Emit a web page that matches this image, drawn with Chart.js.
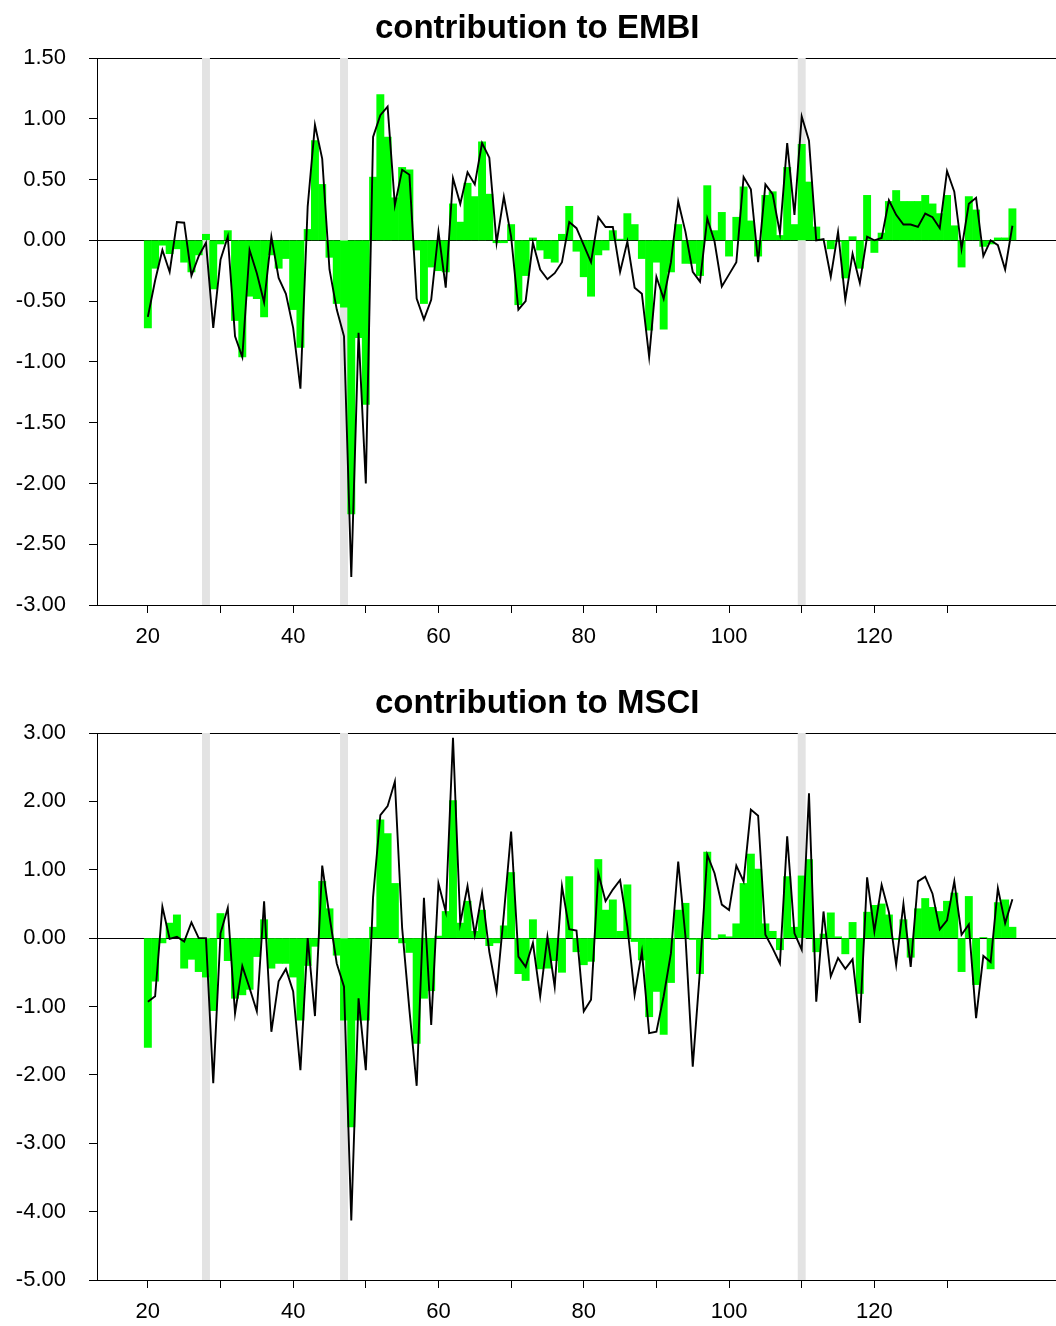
<!DOCTYPE html>
<html>
<head>
<meta charset="utf-8">
<title>contribution to EMBI / MSCI</title>
<script src="https://cdn.jsdelivr.net/npm/chart.js@4.4.1/dist/chart.umd.min.js"></script>
<style>
  html, body { margin: 0; padding: 0; background: #fff; }
  #wrap { position: relative; width: 1056px; height: 1326px; }
  canvas { position: absolute; left: 0; }
  #embi-chart { top: 0; }
  #msci-chart { top: 651px; }
</style>
</head>
<body>
<div id="wrap">
  <canvas id="embi-chart" width="1056" height="651"></canvas>
  <canvas id="msci-chart" width="1056" height="675"></canvas>
</div>
<script>
// periods on the x axis
const periods = [
  20, 21, 22, 23, 24, 25, 26, 27, 28, 29, 30, 31, 32, 33, 34, 35, 36, 37, 38, 39,
  40, 41, 42, 43, 44, 45, 46, 47, 48, 49, 50, 51, 52, 53, 54, 55, 56, 57, 58, 59,
  60, 61, 62, 63, 64, 65, 66, 67, 68, 69, 70, 71, 72, 73, 74, 75, 76, 77, 78, 79,
  80, 81, 82, 83, 84, 85, 86, 87, 88, 89, 90, 91, 92, 93, 94, 95, 96, 97, 98, 99,
  100, 101, 102, 103, 104, 105, 106, 107, 108, 109, 110, 111, 112, 113, 114, 115, 116, 117, 118, 119,
  120, 121, 122, 123, 124, 125, 126, 127, 128, 129, 130, 131, 132, 133, 134, 135, 136, 137, 138, 139
];

// green bars / black line, EMBI
const embiBars = [
  -0.72, -0.23, -0.04, -0.11, -0.07, -0.18, -0.26, -0.12, 0.05, -0.40,
  -0.03, 0.08, -0.66, -0.96, -0.46, -0.48, -0.63, -0.12, -0.23, -0.15,
  -0.57, -0.88, 0.09, 0.82, 0.46, -0.14, -0.52, -0.55, -2.25, -0.80,
  -1.35, 0.52, 1.20, 0.85, 0.35, 0.60, 0.58, -0.08, -0.52, -0.22,
  -0.25, -0.26, 0.30, 0.15, 0.47, 0.36, 0.81, 0.38, -0.02, -0.02,
  0.13, -0.53, -0.29, 0.02, -0.08, -0.15, -0.18, 0.05, 0.28, -0.09,
  -0.30, -0.46, -0.12, -0.08, 0.08, 0.01, 0.22, 0.13, -0.15, -0.74,
  -0.18, -0.73, -0.26, 0.13, -0.19, -0.19, -0.29, 0.45, 0.08, 0.23,
  -0.13, 0.19, 0.44, 0.16, -0.13, 0.37, 0.40, 0.04, 0.60, 0.13,
  0.79, 0.48, 0.11, 0.00, -0.07, -0.01, -0.31, 0.03, -0.23, 0.37,
  -0.10, 0.06, 0.32, 0.41, 0.32, 0.32, 0.32, 0.37, 0.30, 0.22,
  0.37, 0.12, -0.22, 0.36, 0.25, -0.05, -0.03, 0.02, 0.02, 0.26
];
const embiLine = [
  -0.63, -0.33, -0.08, -0.26, 0.15, 0.145, -0.29, -0.13, -0.02, -0.72,
  -0.16, 0.03, -0.79, -0.96, -0.08, -0.27, -0.51, 0.03, -0.31, -0.44,
  -0.72, -1.22, 0.28, 0.95, 0.67, -0.24, -0.57, -0.79, -2.77, -0.76,
  -2.00, 0.85, 1.03, 1.10, 0.29, 0.58, 0.54, -0.48, -0.65, -0.49,
  0.07, -0.39, 0.51, 0.30, 0.56, 0.46, 0.80, 0.68, -0.02, 0.36,
  0.03, -0.57, -0.50, -0.02, -0.24, -0.32, -0.27, -0.18, 0.15, 0.10,
  -0.04, -0.18, 0.19, 0.11, 0.11, -0.26, -0.01, -0.39, -0.44, -0.96,
  -0.30, -0.48, -0.18, 0.32, 0.07, -0.26, -0.34, 0.18, -0.01, -0.38,
  -0.28, -0.18, 0.52, 0.42, -0.18, 0.46, 0.38, 0.06, 0.80, 0.21,
  1.02, 0.82, 0.00, 0.01, -0.30, 0.07, -0.49, -0.11, -0.35, 0.03,
  0.00, 0.02, 0.33, 0.21, 0.13, 0.13, 0.11, 0.22, 0.19, 0.10,
  0.57, 0.40, -0.07, 0.30, 0.35, -0.13, 0.00, -0.04, -0.24, 0.12
];

// green bars / black line, MSCI
const msciBars = [
  -1.60, -0.63, -0.07, 0.22, 0.34, -0.44, -0.31, -0.49, -0.57, -1.06,
  0.36, -0.33, -0.88, -0.83, -0.75, -0.27, 0.27, -0.44, -0.37, -0.37,
  -0.57, -1.20, -0.40, -0.12, 0.83, 0.43, -0.25, -1.20, -2.76, -1.20,
  -1.20, 0.16, 1.73, 1.53, 0.80, -0.07, -0.21, -1.54, -0.88, -0.77,
  0.03, 0.39, 2.01, 0.22, 0.54, 0.10, 0.41, -0.11, -0.07, 0.18,
  0.96, -0.52, -0.62, 0.27, -0.45, -0.44, -0.33, -0.50, 0.90, -0.20,
  -0.39, -0.34, 1.15, 0.41, 0.56, 0.10, 0.78, -0.05, -0.32, -1.15,
  -0.78, -1.41, -0.65, 0.41, 0.51, -0.02, -0.52, 1.26, -0.02, 0.05,
  0.02, 0.21, 0.80, 1.23, 1.01, 0.21, 0.10, -0.17, 0.90, 0.16,
  0.91, 1.15, -0.20, 0.06, 0.37, 0.02, -0.23, 0.23, -0.81, 0.38,
  0.48, 0.50, 0.34, -0.02, 0.27, -0.28, 0.43, 0.58, 0.45, 0.39,
  0.54, 0.66, -0.49, 0.61, -0.68, 0.01, -0.45, 0.52, 0.56, 0.16
];
const msciLine = [
  -0.93, -0.85, 0.46, -0.01, 0.02, -0.05, 0.23, 0.00, 0.00, -2.12,
  0.07, 0.44, -1.10, -0.41, -0.73, -1.07, 0.54, -1.37, -0.63, -0.45,
  -0.78, -1.93, 0.00, -1.14, 1.06, 0.32, -0.37, -0.71, -4.13, -0.88,
  -1.93, 0.60, 1.80, 1.93, 2.29, 0.15, -1.05, -2.16, 0.59, -1.27,
  0.80, 0.39, 2.93, 0.22, 0.76, 0.05, 0.66, -0.20, -0.78, 0.35,
  1.56, -0.27, -0.42, -0.07, -0.85, 0.02, -0.71, 0.76, 0.13, 0.11,
  -1.07, -0.90, 0.95, 0.54, 0.71, 0.85, 0.17, -0.83, -0.20, -1.39,
  -1.37, -0.85, -0.22, 1.12, 0.02, -1.88, -0.46, 1.22, 0.95, 0.49,
  0.41, 1.06, 0.83, 1.88, 1.79, 0.05, -0.15, -0.37, 1.49, 0.07,
  -0.17, 2.12, -0.93, 0.39, -0.56, -0.29, -0.45, -0.31, -1.24, 0.89,
  0.10, 0.78, 0.38, -0.39, 0.50, -0.42, 0.83, 0.90, 0.65, 0.13,
  0.26, 0.83, 0.05, 0.20, -1.17, -0.26, -0.35, 0.73, 0.22, 0.57
];

// grey shaded periods
const shadedPeriods = [28, 47, 110];

// axes
const xRange = [13, 145];
const xTickValues = [20, 30, 40, 50, 60, 70, 80, 90, 100, 110, 120, 130];
const xLabelValues = [20, 40, 60, 80, 100, 120];
const embiYTicks = [-3, -2.5, -2, -1.5, -1, -0.5, 0, 0.5, 1, 1.5];
const msciYTicks = [-5, -4, -3, -2, -1, 0, 1, 2, 3];

Chart.defaults.font.family = "'Liberation Sans', Arial, sans-serif";
Chart.defaults.color = '#000';

function makeChart(canvasId, title, bars, line, yTicks, titleTop) {
    const yMin = yTicks[0];
    const yMax = yTicks[yTicks.length - 1];

    return new Chart(document.getElementById(canvasId), {
        type: 'bar',
        data: {
            datasets: [
                {
                    type: 'line',
                    data: periods.map((p, i) => ({ x: p, y: line[i] })),
                    borderColor: '#000',
                    borderWidth: 1.9,
                    pointRadius: 0,
                    tension: 0,
                    order: 0
                },
                {
                    data: periods.map((p, i) => ({ x: p, y: bars[i] })),
                    backgroundColor: '#00ff00',
                    borderWidth: 0,
                    grouped: false,
                    barPercentage: 1,
                    categoryPercentage: 1,
                    order: 1
                },
                {
                    data: shadedPeriods.map(p => ({ x: p, y: [yMin, yMax] })),
                    backgroundColor: '#e3e3e3',
                    borderWidth: 0,
                    grouped: false,
                    barPercentage: 1,
                    categoryPercentage: 1,
                    order: 2
                }
            ]
        },
        options: {
            responsive: false,
            animation: false,
            layout: { padding: 0 },
            plugins: {
                legend: { display: false },
                tooltip: { enabled: false },
                title: {
                    display: true,
                    // leading spaces nudge the centred title a little right, as in the original
                    text: '\u00a0\u00a0' + title,
                    color: '#000',
                    font: { size: 33, weight: 'bold' },
                    padding: { top: titleTop, bottom: 9.4 }
                }
            },
            scales: {
                x: {
                    type: 'linear',
                    min: xRange[0],
                    max: xRange[1],
                    offset: false,
                    afterBuildTicks: axis => { axis.ticks = xTickValues.map(v => ({ value: v })); },
                    afterFit: axis => { axis.height = 46; },
                    border: { color: '#000', width: 1 },
                    grid: { drawOnChartArea: false, offset: false, tickLength: 8, tickColor: '#000' },
                    ticks: {
                        autoSkip: false,
                        maxRotation: 0,
                        padding: 11,
                        font: { size: 22 },
                        callback: v => xLabelValues.includes(v) ? String(v) : ''
                    }
                },
                y: {
                    type: 'linear',
                    min: yMin,
                    max: yMax,
                    afterBuildTicks: axis => { axis.ticks = yTicks.map(v => ({ value: v })); },
                    afterFit: axis => { axis.width = 97; },
                    border: { color: '#000', width: 1 },
                    grid: {
                        // only the zero line and the top edge are drawn across the plot
                        color: c => (c.tick && (c.tick.value === 0 || c.tick.value === yMax)) ? '#000' : 'rgba(0,0,0,0)',
                        tickColor: '#000',
                        tickLength: 8
                    },
                    ticks: {
                        padding: 23,
                        font: { size: 22 },
                        callback: v => Number(v).toFixed(2)
                    }
                }
            }
        }
    });
}

makeChart('embi-chart', 'contribution to EMBI', embiBars, embiLine, embiYTicks, 9);
makeChart('msci-chart', 'contribution to MSCI', msciBars, msciLine, msciYTicks, 33);
</script>
</body>
</html>
